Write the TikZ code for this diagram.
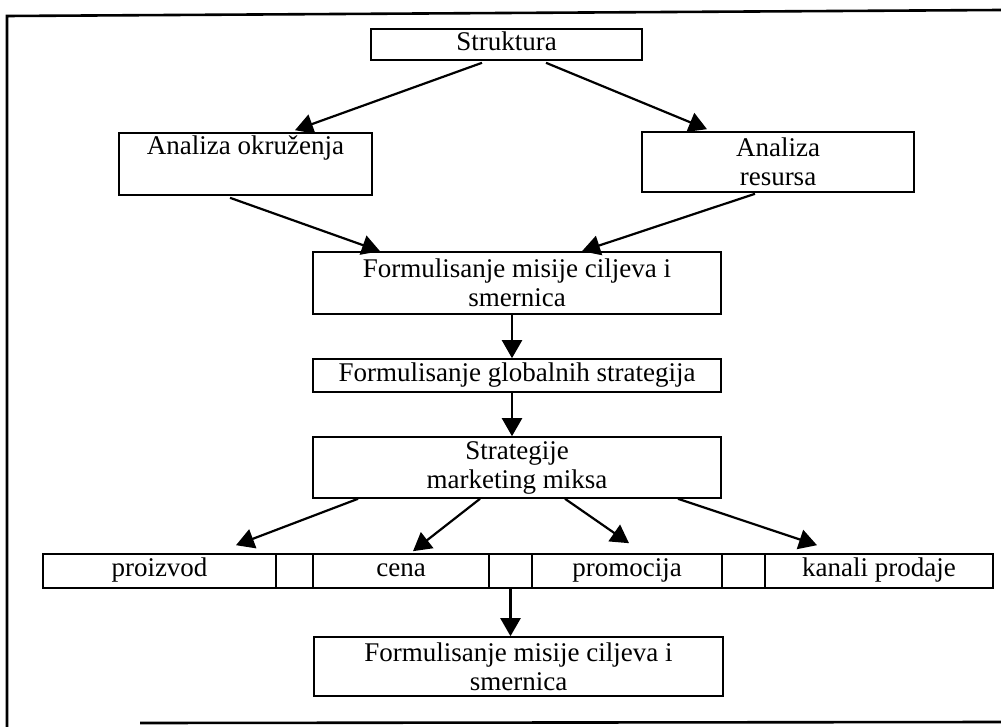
\documentclass[tikz,border=0pt]{standalone}
\usepackage{fontspec}
\setmainfont{Liberation Serif}
\usetikzlibrary{arrows.meta}
\tikzset{
  box/.style={draw, line width=1.6pt, inner sep=0pt, align=center,
              font=\fontsize{27}{29}\selectfont},
  cell/.style={box, minimum height=34pt, execute at begin node={\strut}},
  link/.style={line width=2.2pt, -{Triangle[length=18pt,width=20pt]}},
  frame/.style={line width=2.6pt}
}
\begin{document}
\begin{tikzpicture}[x=1pt,y=-1pt]
\useasboundingbox (0,0) rectangle (1001,727);

% outer frame
\draw[frame] (1001,10) -- (7,16) -- (7,727);
\draw[frame] (140,723) -- (1001,722);

% boxes
\node[box, minimum width=271pt, minimum height=31pt, execute at begin node={\strut}] (struk) at (506.5,44.5) {Struktura};
\node[box, minimum width=253pt, minimum height=62pt] (okr) at (245.5,164) {Analiza okruženja\\\strut};
\node[box, minimum width=272pt, minimum height=60pt] (res) at (778,162) {Analiza\\resursa};
\node[box, minimum width=408pt, minimum height=62pt] (mis) at (517,283) {Formulisanje misije ciljeva i\\smernica};
\node[box, minimum width=408pt, minimum height=33pt, execute at begin node={\strut}] (glob) at (517,375.5) {Formulisanje globalnih strategija};
\node[box, minimum width=408pt, minimum height=61pt] (mix) at (517,467.5) {Strategije\\marketing miksa};

% marketing mix row
\node[cell, minimum width=233pt] (proiz) at (159.5,571) {proizvod};
\node[cell, minimum width=37pt] (gapa) at (294.5,571) {};
\node[cell, minimum width=176pt] (cena) at (401,571) {cena};
\node[cell, minimum width=43pt] (gapb) at (510.5,571) {};
\node[cell, minimum width=190pt] (promo) at (627,571) {promocija};
\node[cell, minimum width=43pt] (gapc) at (743.5,571) {};
\node[cell, minimum width=228pt] (kanal) at (879,571) {kanali prodaje};

\node[box, minimum width=409pt, minimum height=59pt] (fin) at (518.5,666.5) {Formulisanje misije ciljeva i\\smernica};

% connectors
\draw[link] ([xshift=-24.5pt,yshift=-2pt]struk.south) -- ([xshift=49.5pt,yshift=2pt]okr.north);
\draw[link] ([xshift=39.5pt,yshift=-2pt]struk.south) -- ([xshift=-71pt,yshift=2pt]res.north);
\draw[link] ([xshift=-15.5pt,yshift=-2pt]okr.south) -- ([xshift=-137pt]mis.north);
\draw[link] ([xshift=-23pt,yshift=-1pt]res.south) -- ([xshift=65pt]mis.north);
\draw[link] ([xshift=-5pt]mis.south) -- ([xshift=-5pt]glob.north);
\draw[link] ([xshift=-5pt]glob.south) -- ([xshift=-5pt]mix.north);
\draw[link] ([xshift=-159pt]mix.south) -- ([xshift=76.5pt,yshift=8pt]proiz.north);
\draw[link] ([xshift=-37pt]mix.south) -- ([xshift=12pt,yshift=2pt]cena.north);
\draw[link] ([xshift=48pt]mix.south) -- ([xshift=2pt,yshift=10pt]promo.north);
\draw[link] ([xshift=161pt]mix.south) -- ([xshift=-62pt,yshift=8pt]kanal.north);
\draw[link] (gapb.south) -- (gapb.south |- fin.north);
\end{tikzpicture}
\end{document}
